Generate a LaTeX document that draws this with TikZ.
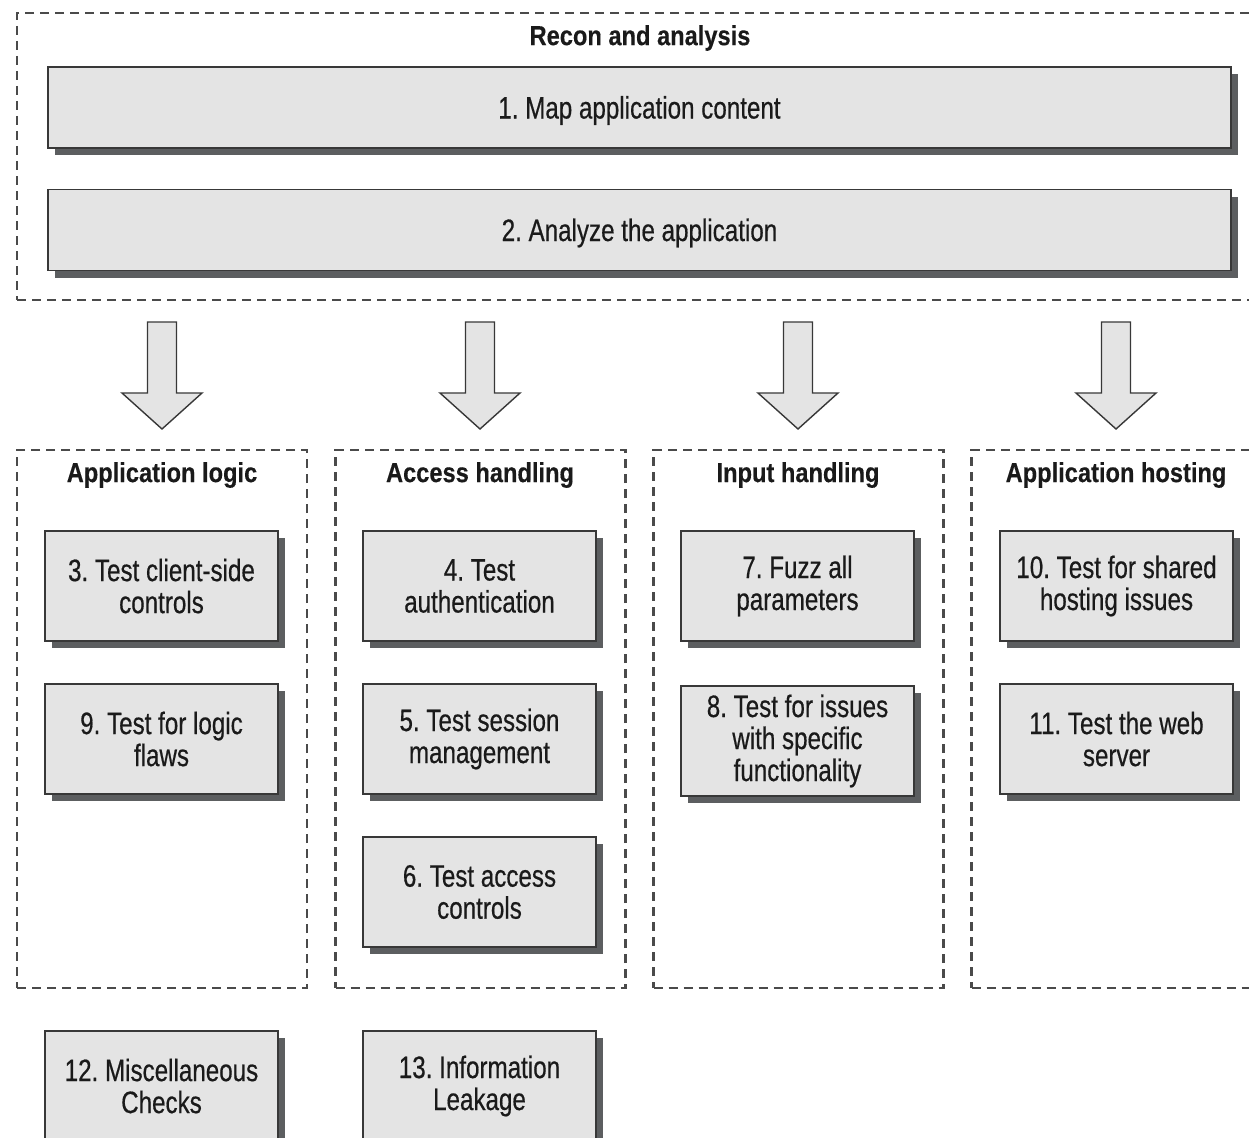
\documentclass[tikz,border=0pt]{standalone}
\usepackage{fontspec}
\setmainfont{Liberation Sans}[FakeStretch=0.78, FakeBold=0.5]
\newfontfamily\titlefont{Liberation Sans}[FakeStretch=0.86, FakeBold=0.3]
\usetikzlibrary{shadows}
\definecolor{boxfill}{HTML}{E4E4E4}
\definecolor{boxline}{HTML}{383838}
\definecolor{shadowc}{HTML}{5C5E60}
\definecolor{dashc}{HTML}{4A4A4A}
\definecolor{txt}{HTML}{1A1A1A}
\newcommand{\lowered}[1]{\raisebox{-3pt}[\height][\depth]{#1}}
\tikzset{
  stepbox/.style={draw=boxline, line width=1.6pt, fill=boxfill, minimum width=233pt,
    minimum height=110pt, inner sep=0pt, align=center, text=txt,
    font=\frenchspacing\fontsize{31}{32}\selectfont,
    drop shadow={shadow xshift=7pt, shadow yshift=-7pt, fill=shadowc, opacity=1}},
  widebox/.style={stepbox, minimum width=1183pt, minimum height=81pt},
  groupbox/.style={draw=dashc, line width=2.2pt, dash pattern=on 9pt off 6pt,
    minimum width=290pt, minimum height=538pt, inner sep=0pt},
  grouptitle/.style={font=\titlefont\bfseries\fontsize{27.5}{30}\selectfont, text=txt, inner sep=0pt},
  bigarrow/.style={draw=boxline, line width=1.4pt, fill=boxfill, line join=miter},
}
\begin{document}
\begin{tikzpicture}[x=1pt,y=-1pt]
\useasboundingbox (0,0) rectangle (1249,1137);
\fill[white] (0,0) rectangle (1249,1137);
\clip (0,0) rectangle (1249,1137);

% top group
\node[groupbox, minimum width=1245pt, minimum height=287pt] (recon) at (639.5,156.5) {};
\node[grouptitle] (recont) at (640,38) {Recon and analysis};
\node[widebox] (b1) at (639.5,107.5) {\lowered{1. Map application content}};
\node[widebox] (b2) at (639.5,230) {\lowered{2. Analyze the application}};

% arrows
\foreach \cx in {162,480,798,1116}{
  \draw[bigarrow] (\cx-14.5,322) -- (\cx-14.5,393) -- (\cx-40,393) -- (\cx,429)
     -- (\cx+40,393) -- (\cx+14.5,393) -- (\cx+14.5,322) -- cycle;
}

% groups
\node[groupbox] (g1) at (162,719) {};
\node[groupbox] (g2) at (480.5,719) {};
\node[groupbox] (g3) at (798.5,719) {};
\node[groupbox] (g4) at (1116.5,719) {};
\node[grouptitle] (t1) at (162,475) {Application logic};
\node[grouptitle] (t2) at (480,475) {Access handling};
\node[grouptitle] (t3) at (798,475) {Input handling};
\node[grouptitle] (t4) at (1116,475) {Application hosting};

% steps
\node[stepbox] (b3) at (161.5,586) {3. Test client-side\\controls};
\node[stepbox] (b9) at (161.5,739) {9. Test for logic\\flaws};
\node[stepbox] (b4) at (479.5,586) {4. Test\\authentication};
\node[stepbox] (b5) at (479.5,739) {5. Test session\\management};
\node[stepbox] (b6) at (479.5,892) {6. Test access\\controls};
\node[stepbox] (b7) at (797.5,586) {7. Fuzz all\\parameters};
\node[stepbox] (b8) at (797.5,741) {8. Test for issues\\with specific\\functionality};
\node[stepbox] (b10) at (1116.5,586) {10. Test for shared\\hosting issues};
\node[stepbox] (b11) at (1116.5,739) {11. Test the web\\server};
\node[stepbox] (b12) at (161.5,1086) {12. Miscellaneous\\Checks};
\node[stepbox] (b13) at (479.5,1086) {13. Information\\Leakage};
\end{tikzpicture}
\end{document}
